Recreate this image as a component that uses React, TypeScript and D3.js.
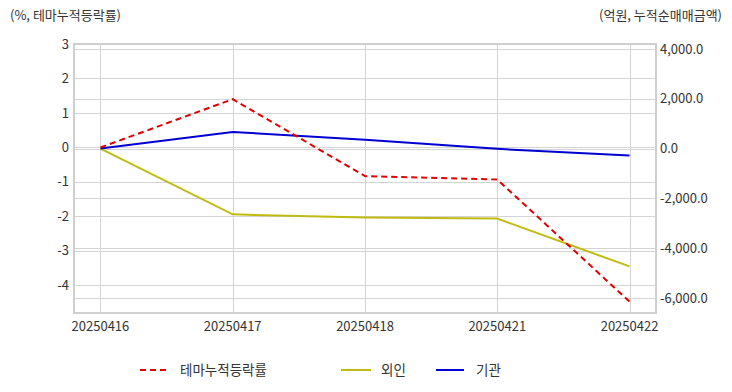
import React from "react";
import * as d3 from "d3";

const categories = ["20250416", "20250417", "20250418", "20250421", "20250422"];
const themeReturn = [0, 1.4, -0.83, -0.93, -4.47];
const foreign = [0, -2640, -2770, -2810, -4730];
const institution = [0, 670, 360, -10, -280];
const leftTicks = [3, 2, 1, 0, -1, -2, -3, -4];
const rightTicks = [4000, 2000, 0, -2000, -4000, -6000];
const seriesNames = ["테마누적등락률", "외인", "기관"];

const W = 732, H = 392;
const plot = { left: 74, right: 656, top: 44, bottom: 313 };
const FONT = "'Noto Sans CJK KR', 'Noto Sans', sans-serif";

export default function App() {
  const x = d3.scalePoint<string>().domain(categories).range([plot.left, plot.right]).padding(0.2);
  const yL = d3.scaleLinear().domain([-4.8, 3]).range([plot.bottom, plot.top]);
  const yR = d3.scaleLinear().domain([-6600, 4200]).range([plot.bottom, plot.top]);
  const fmtR = d3.format(",.1f");

  const lineL = d3.line<number>().x((_, i) => x(categories[i])!).y((d) => yL(d));
  const lineR = d3.line<number>().x((_, i) => x(categories[i])!).y((d) => yR(d));

  const gridColor = "#d4d4d4";
  const textColor = "#333";

  return (
    <svg width={W} height={H} style={{ position: "absolute", left: 0, top: 0, fontFamily: FONT }}>
      <rect width={W} height={H} fill="#fff" />
      <text x={10} y={20} fontSize={13} fill={textColor}>(%, 테마누적등락률)</text>
      <text x={722} y={20} fontSize={13} fill={textColor} textAnchor="end">(억원, 누적순매매금액)</text>

      {leftTicks.map((t) => (
        <line key={"gl" + t} x1={plot.left} x2={plot.right} y1={Math.round(yL(t)) + 0.5} y2={Math.round(yL(t)) + 0.5} stroke={gridColor} />
      ))}
      {rightTicks.map((t) => (
        <line key={"gr" + t} x1={plot.left} x2={plot.right} y1={Math.round(yR(t)) + 0.5} y2={Math.round(yR(t)) + 0.5} stroke={gridColor} />
      ))}
      {categories.map((c) => (
        <line key={"gx" + c} x1={Math.round(x(c)!) + 0.5} x2={Math.round(x(c)!) + 0.5} y1={plot.top} y2={plot.bottom} stroke={gridColor} />
      ))}
      <rect x={plot.left} y={plot.top} width={plot.right - plot.left} height={plot.bottom - plot.top} fill="none" stroke="#cfcfcf" strokeWidth={2} />

      {leftTicks.map((t) => (
        <text key={"tl" + t} x={69} y={yL(t)} dy="0.35em" fontSize={13} fill={textColor} textAnchor="end">{t}</text>
      ))}
      {rightTicks.map((t) => (
        <text key={"tr" + t} x={660} y={yR(t)} dy="0.35em" fontSize={13} fill={textColor}>{fmtR(t).replace("−", "-")}</text>
      ))}
      {categories.map((c) => (
        <text key={"tx" + c} x={x(c)!} y={331} fontSize={13} fill={textColor} textAnchor="middle">{c}</text>
      ))}

      <path d={lineR(foreign)!} fill="none" stroke="#c0bb10" strokeWidth={2} />
      <path d={lineR(institution)!} fill="none" stroke="#0000d0" strokeWidth={2} />
      <path d={lineL(themeReturn)!} fill="none" stroke="#e00000" strokeWidth={2} strokeDasharray="6,4" />

      <g fontSize={13.5} fill={textColor}>
        <line x1={140} x2={168} y1={370} y2={370} stroke="#e00000" strokeWidth={2} strokeDasharray="6,4" />
        <text x={180} y={370} dy="0.35em">{seriesNames[0]}</text>
        <line x1={341} x2={371} y1={370} y2={370} stroke="#c0bb10" strokeWidth={2} />
        <text x={381} y={370} dy="0.35em">{seriesNames[1]}</text>
        <line x1={436} x2={464} y1={370} y2={370} stroke="#0000d0" strokeWidth={2} />
        <text x={476} y={370} dy="0.35em">{seriesNames[2]}</text>
      </g>
    </svg>
  );
}
